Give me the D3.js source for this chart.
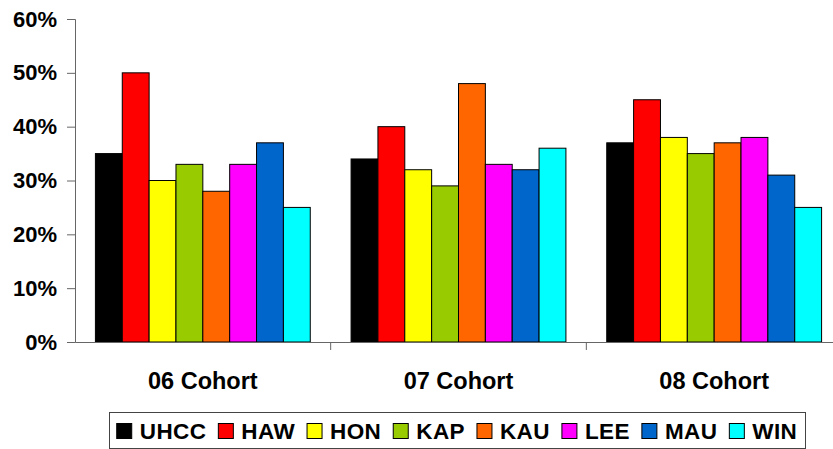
<!doctype html>
<html lang="en-US">
<head>
  <meta charset="utf-8">
  <title>Cohort chart</title>
  <script src="https://d3js.org/d3.v7.min.js"></script>
  <style>
    body { margin: 0; background: #fff; }
    svg { display: block; font-family: "Liberation Sans", Arial, sans-serif; font-weight: bold; }
  </style>
</head>
<body>
<svg width="833" height="449"></svg>
<script>
// data
var cohorts = ["06 Cohort", "07 Cohort", "08 Cohort"];
var campuses = ["UHCC", "HAW", "HON", "KAP", "KAU", "LEE", "MAU", "WIN"];
var colors = ["#000000", "#ff0000", "#ffff00", "#99cc00", "#ff6600", "#ff00ff", "#0066cc", "#00ffff"];
var uhcc = [35, 34, 37];
var haw  = [50, 40, 45];
var hon  = [30, 32, 38];
var kap  = [33, 29, 35];
var kau  = [28, 48, 37];
var lee  = [33, 33, 38];
var mau  = [37, 32, 31];
var win  = [25, 36, 25];
var yTicks = [0, 10, 20, 30, 40, 50, 60];

var series = [uhcc, haw, hon, kap, kau, lee, mau, win];

var svg = d3.select("svg");
var plotLeft = 75, plotRight = 842, plotTop = 19, plotBottom = 342;

var x0 = d3.scaleBand().domain(cohorts).range([plotLeft, plotRight]).padding(0);
var x1 = d3.scaleBand().domain(campuses).range([0, x0.bandwidth()])
    .paddingInner(0).paddingOuter(0.76);
var y = d3.scaleLinear().domain([0, 60]).range([plotBottom, plotTop]);

// bars
var g = svg.selectAll(".grp")
  .data(cohorts)
  .enter().append("g")
  .attr("transform", function(d) { return "translate(" + x0(d) + ",0)"; });

g.selectAll("rect")
  .data(function(d, i) { return campuses.map(function(c, j) { return {c: c, v: series[j][i], k: j}; }); })
  .enter().append("rect")
  .attr("x", function(d) { return x1(d.c); })
  .attr("y", function(d) { return y(d.v); })
  .attr("width", x1.bandwidth())
  .attr("height", function(d) { return plotBottom - y(d.v); })
  .attr("fill", function(d) { return colors[d.k]; })
  .attr("stroke", "#000")
  .attr("stroke-width", 1);

// y axis
var yAxis = svg.append("g")
  .attr("transform", "translate(" + plotLeft + ",0)")
  .call(d3.axisLeft(y).tickValues(yTicks).tickSize(8).tickPadding(10)
    .tickFormat(function(d) { return d + "%"; }));
yAxis.select(".domain").attr("stroke", "#666");
yAxis.selectAll(".tick line").attr("stroke", "#666");
yAxis.selectAll("text").attr("font-size", 22).attr("font-weight", "bold").attr("fill", "#000")
  .attr("font-family", "Liberation Sans, Arial, sans-serif");

// x axis
var xAxis = svg.append("g")
  .attr("transform", "translate(0," + plotBottom + ")")
  .call(d3.axisBottom(x0).tickSize(0).tickPadding(30));
xAxis.select(".domain").attr("stroke", "#666");
xAxis.selectAll("text").attr("font-size", 23.5).attr("font-weight", "bold").attr("fill", "#000")
  .attr("font-family", "Liberation Sans, Arial, sans-serif");

// separator ticks between groups
svg.selectAll(".sep")
  .data(cohorts.slice(1))
  .enter().append("line")
  .attr("x1", function(d) { return x0(d); })
  .attr("x2", function(d) { return x0(d); })
  .attr("y1", plotBottom).attr("y2", plotBottom + 8)
  .attr("stroke", "#666");

// legend
var boxX = 109, boxY = 412, boxW = 696, boxH = 36;
svg.append("rect")
  .attr("x", boxX + 0.5).attr("y", boxY + 0.5)
  .attr("width", boxW).attr("height", boxH)
  .attr("fill", "#fff").attr("stroke", "#444");

var leg = svg.append("g");
var cx = 0;
campuses.forEach(function(c, i) {
  leg.append("rect")
    .attr("x", cx).attr("y", boxY + 11.5)
    .attr("width", 15).attr("height", 15)
    .attr("fill", colors[i]).attr("stroke", "#000");
  var t = leg.append("text")
    .attr("x", cx + 23).attr("y", boxY + 26.5)
    .attr("font-size", 22.5)
    .attr("letter-spacing", 0.4)
    .text(c);
  cx += 23 + t.node().getComputedTextLength() + 12;
});
var legW = cx - 12;
leg.attr("transform", "translate(" + (boxX + (boxW - legW) / 2) + ",0)");
</script>
</body>
</html>
